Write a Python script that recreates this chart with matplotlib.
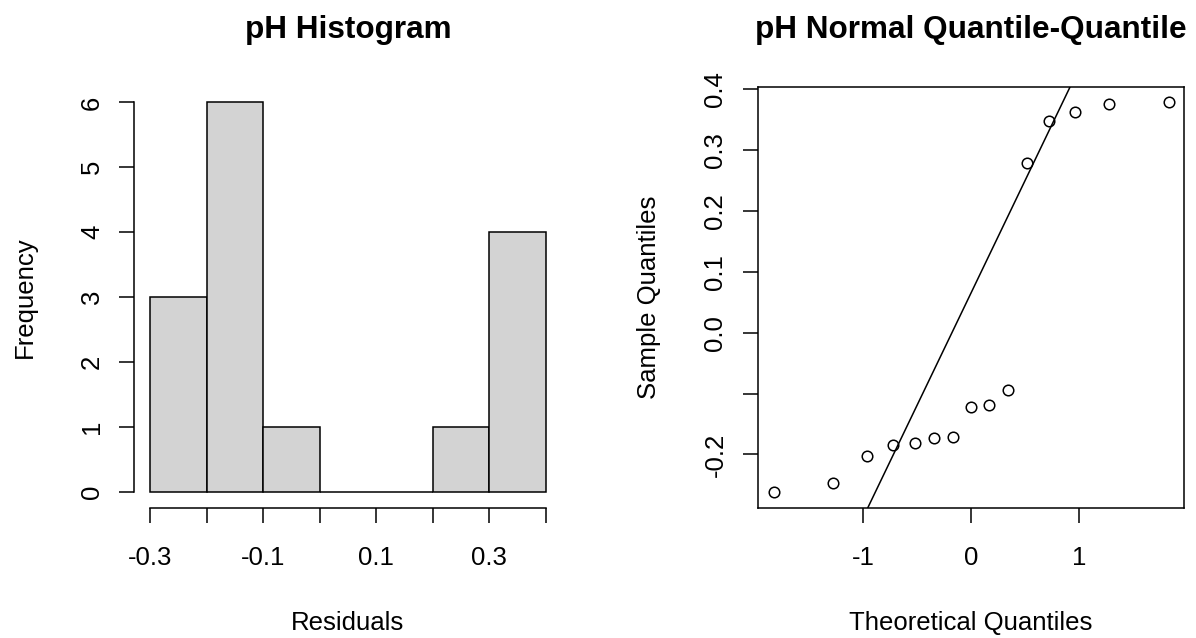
import numpy as np
import matplotlib
matplotlib.use("Agg")
import matplotlib.pyplot as plt

plt.rcParams["font.family"] = ["Liberation Sans", "DejaVu Sans"]

# sorted pH residuals
residuals = [-0.2615, -0.2472, -0.2033, -0.1847, -0.1815, -0.1737, -0.1711,
             -0.1218, -0.1185, -0.0943, 0.2783, 0.3479, 0.3615, 0.3758, 0.3780]
# normal quantiles for n = 15
theoretical = [-1.834, -1.282, -0.967, -0.728, -0.524, -0.341, -0.168, 0.0,
               0.168, 0.341, 0.524, 0.728, 0.967, 1.282, 1.834]

bin_edges = [-0.3, -0.2, -0.1, 0.0, 0.1, 0.2, 0.3, 0.4]
bin_counts = [3, 6, 1, 0, 0, 1, 4]

hist_xticks = [-0.3, -0.2, -0.1, 0.0, 0.1, 0.2, 0.3, 0.4]
hist_xlabels = ["-0.3", "", "-0.1", "", "0.1", "", "0.3", ""]
hist_yticks = [0, 1, 2, 3, 4, 5, 6]
qq_xticks = [-1, 0, 1]
qq_yticks = [-0.2, -0.1, 0.0, 0.1, 0.2, 0.3, 0.4]
qq_ylabels = ["-0.2", "", "0.0", "0.1", "0.2", "0.3", "0.4"]

W, H = 1196, 638
FS = 18.5
TITLE_FS = 22.7
LW = 1.1


def px_axes(left, top, right, bottom):
    return [left / W, 1 - bottom / H, (right - left) / W, (bottom - top) / H]


def r_style(ax):
    ax.tick_params(direction="out", length=10.8, width=LW, labelsize=FS,
                   colors="black")
    ax.tick_params(axis="x", pad=17)
    ax.tick_params(axis="y", pad=11, labelrotation=90)
    for lab in ax.get_yticklabels():
        lab.set_ha("right")
        lab.set_va("center")
    for s in ax.spines.values():
        s.set_linewidth(LW)


fig = plt.figure(figsize=(W / 100, H / 100), dpi=100)

# histogram
ax1 = fig.add_axes(px_axes(134.2, 86.8, 561.5, 507.5))
ax1.bar(bin_edges[:-1], bin_counts, width=np.diff(bin_edges), align="edge",
        color="#d3d3d3", edgecolor="black", linewidth=LW)
ax1.set_xlim(-0.328, 0.428)
ax1.set_ylim(-0.24, 6.24)
ax1.spines["top"].set_visible(False)
ax1.spines["right"].set_visible(False)
ax1.spines["left"].set_bounds(0, 6)
ax1.spines["bottom"].set_bounds(-0.3, 0.4)
ax1.set_xticks(hist_xticks)
ax1.set_xticklabels(hist_xlabels)
ax1.set_yticks(hist_yticks)
ax1.set_yticklabels([str(v) for v in hist_yticks])
r_style(ax1)
ax1.set_xlabel("Residuals", fontsize=FS, va="baseline")
ax1.xaxis.set_label_coords(0.5, -(630 - 507.5) / (507.5 - 86.8))
ax1.set_ylabel("Frequency", fontsize=FS, va="baseline")
ax1.yaxis.set_label_coords(-(134.2 - 32) / (561.5 - 134.2), 0.5)
fig.text((134.2 + 561.5) / 2 / W, 1 - 38 / H, "pH Histogram",
         fontsize=TITLE_FS, fontweight="bold", ha="center", va="baseline")

# normal q-q plot
ax2 = fig.add_axes(px_axes(757.7, 86.8, 1184.3, 507.5))
ax2.plot(theoretical, residuals, "o", mfc="none", mec="black", ms=7.6,
         mew=LW)
ax2.margins(x=0.04, y=0.04)
q1, q3 = np.percentile(residuals, [25, 75])
z = 0.6744898
slope = (q3 - q1) / (2 * z)
ax2.axline((0, q1 + slope * z), slope=slope, color="black", linewidth=LW)
ax2.set_xticks(qq_xticks)
ax2.set_xticklabels([str(v) for v in qq_xticks])
ax2.set_yticks(qq_yticks)
ax2.set_yticklabels(qq_ylabels)
r_style(ax2)
ax2.set_xlabel("Theoretical Quantiles", fontsize=FS, va="baseline")
ax2.xaxis.set_label_coords(0.5, -(630 - 507.5) / (507.5 - 86.8))
ax2.set_ylabel("Sample Quantiles", fontsize=FS, va="baseline")
ax2.yaxis.set_label_coords(-(757.7 - 655.6) / (1184.3 - 757.7), 0.5)
fig.text((757.7 + 1184.3) / 2 / W, 1 - 38 / H,
         "pH Normal Quantile-Quantile",
         fontsize=TITLE_FS, fontweight="bold", ha="center", va="baseline")

fig.savefig("out.png", dpi=100)
